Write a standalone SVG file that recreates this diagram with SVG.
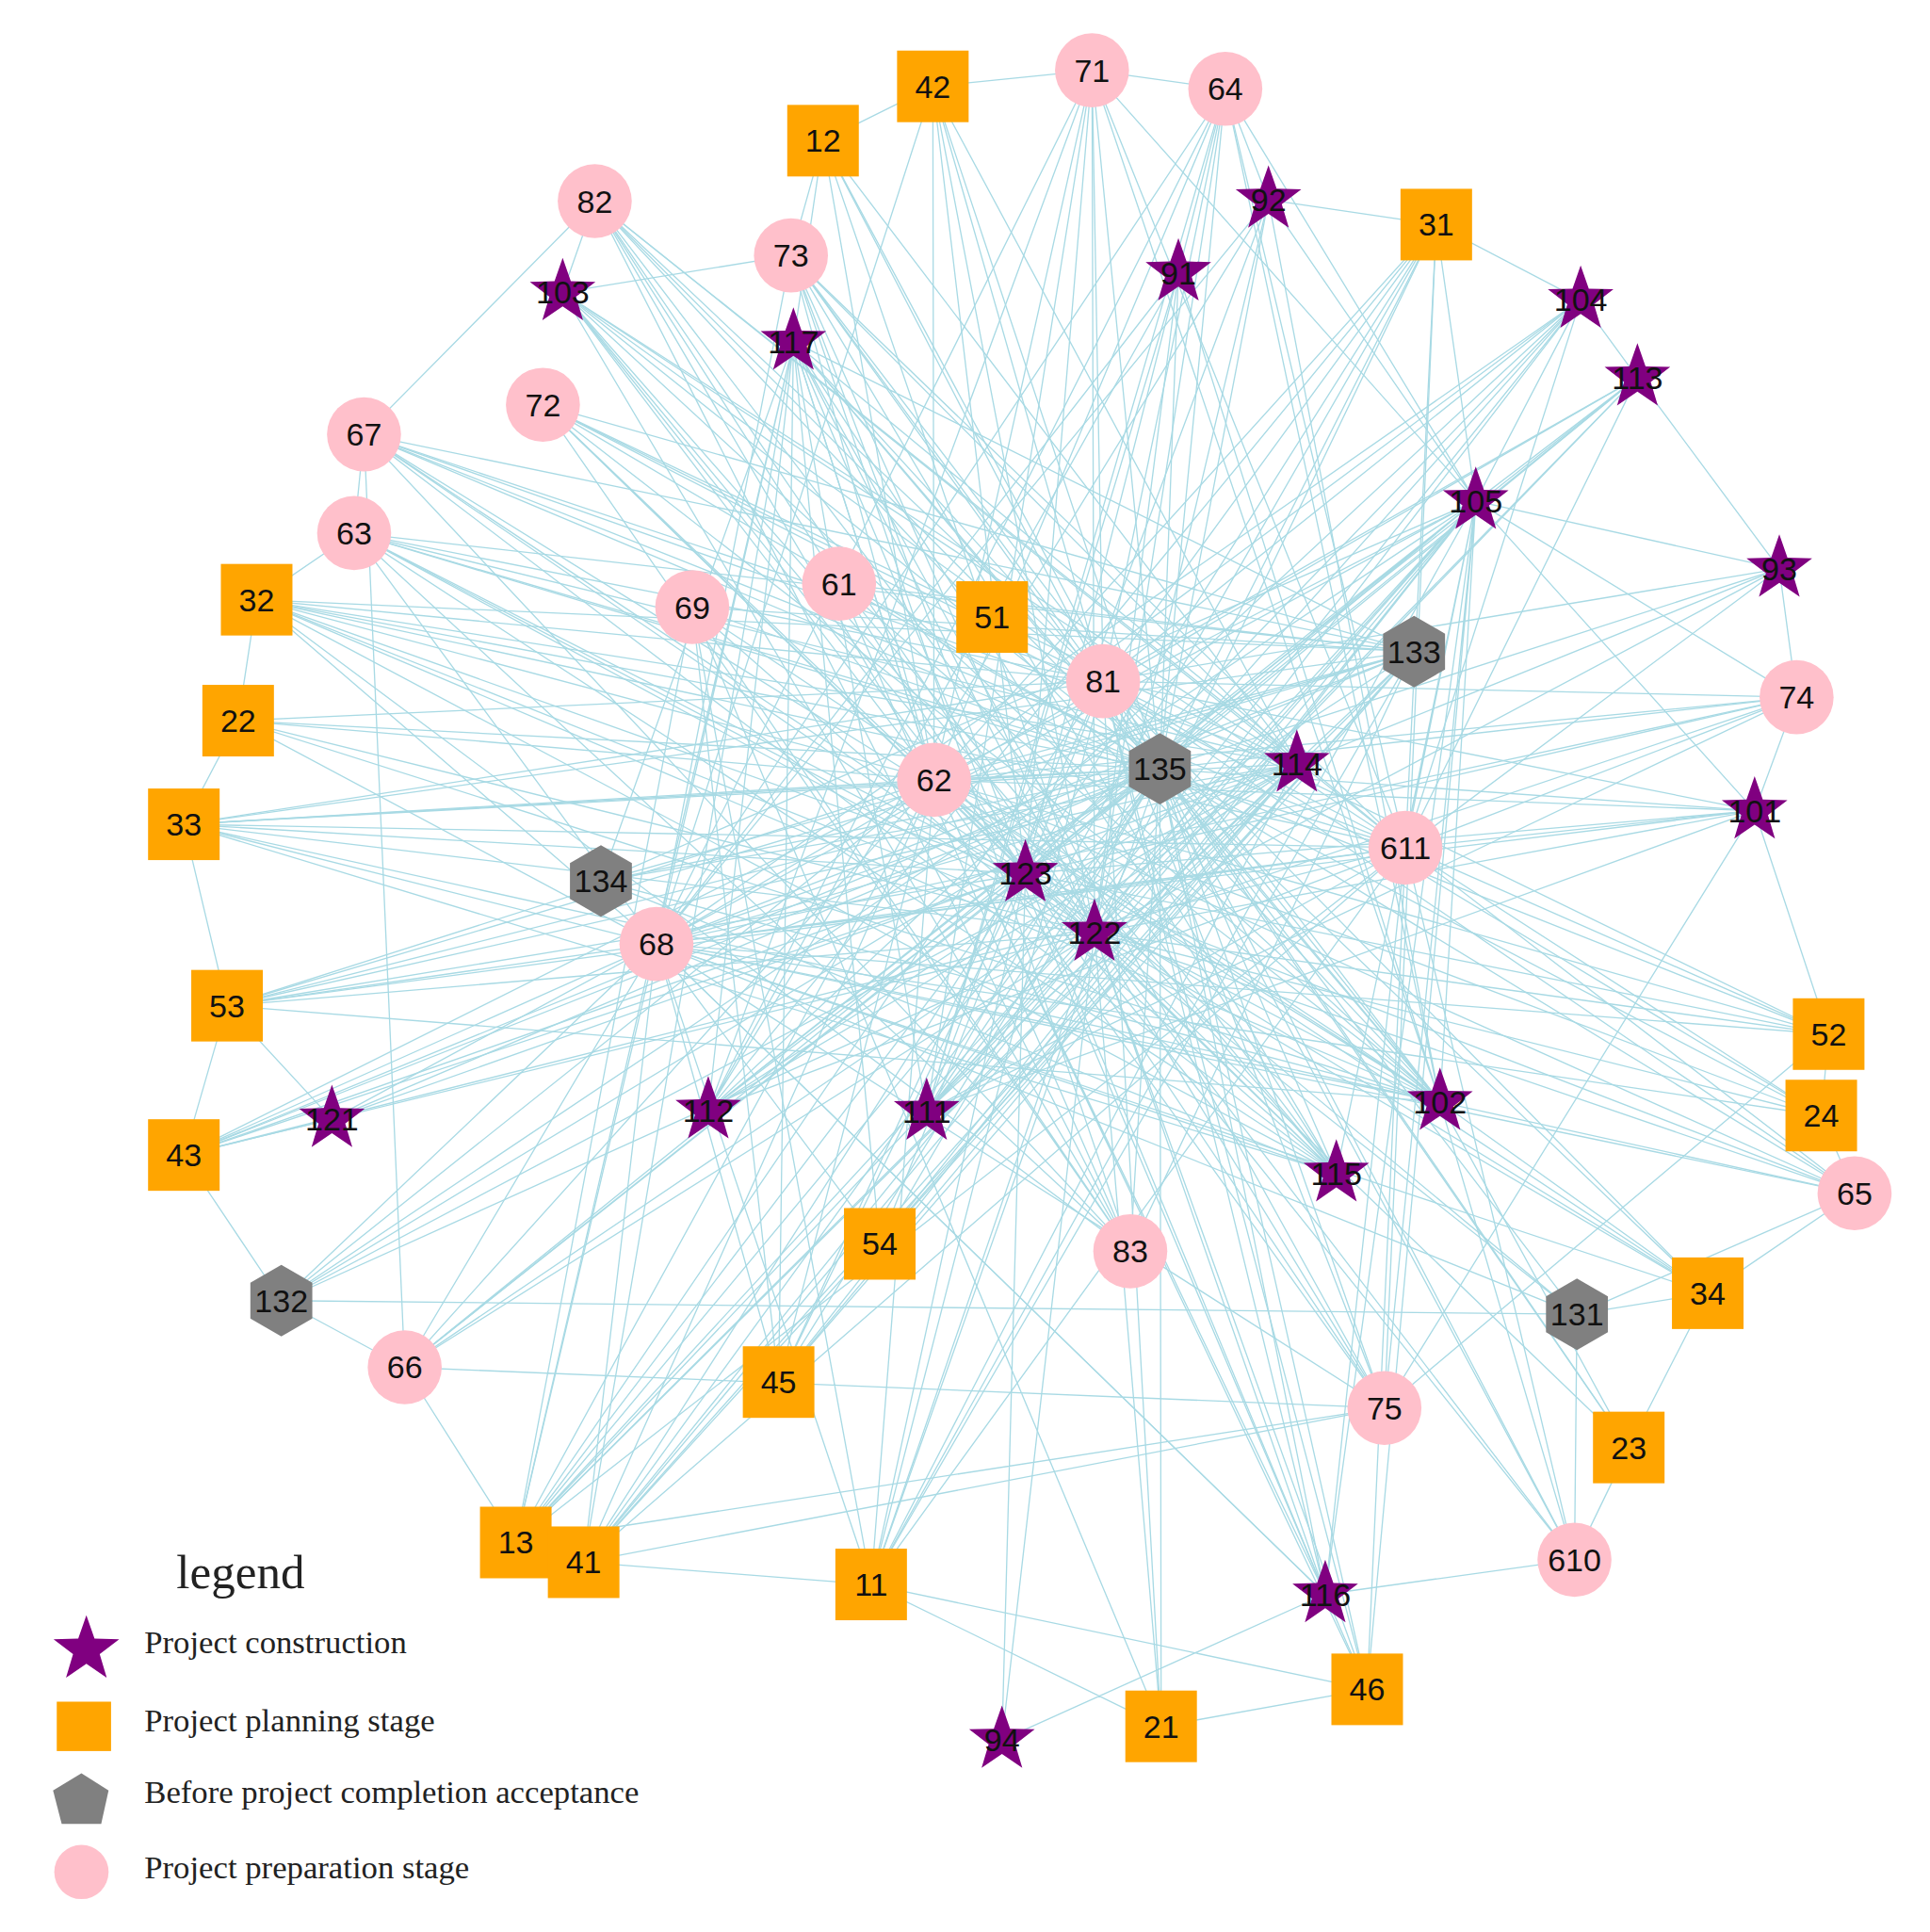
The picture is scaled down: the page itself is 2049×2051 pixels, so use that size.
<svg xmlns="http://www.w3.org/2000/svg" xmlns:xlink="http://www.w3.org/1999/xlink" width="2049" height="2051" viewBox="0 0 2049 2051">
<style>
.e{stroke:#9fd6e2;stroke-width:1;fill:none;opacity:0.9}
.c{fill:#ffc0cb}.s{fill:#ffa500}.st{fill:#800080}.h{fill:#808080}
.t{font-family:"Liberation Sans",Arial,sans-serif;font-size:26px;fill:#111;text-anchor:middle;dominant-baseline:central}
.lg{font-family:"Liberation Serif","Times New Roman",serif;font-size:26.5px;fill:#222}
</style>
<defs>
<polygon id="star" points="0,-28 6.6,-9.1 26.6,-8.6 10.8,3.5 16.5,22.6 0,11.3 -16.5,22.6 -10.8,3.5 -26.6,-8.6 -6.6,-9.1"/>
<polygon id="hex" points="0,-29 25.1,-14.5 25.1,14.5 0,29 -25.1,14.5 -25.1,-14.5"/>
</defs>
<rect width="2049" height="2051" fill="#fff"/>
<g transform="scale(1.31)">
<g id="connectors" class="e">
<path d="M756 70L667 114M756 70L885 57M885 57L993 72M993 72L1028 162M1028 162L1164 182M1164 182L1281 243M1281 243L1327 306M1327 306L1442 461M1442 461L1456 565M1456 565L1422 657M1422 657L1482 838M1482 838L1476 904M1476 904L1503 967M1503 967L1384 1048M1384 1048L1320 1173M1320 1173L1276 1264M1276 1264L1074 1292M1074 1292L1108 1369M1108 1369L941 1399M706 1284L1108 1369M706 1284L941 1399M418 1250L473 1266M473 1266L706 1284M418 1250L328 1108M328 1108L228 1054M228 1054L149 936M149 936L184 815M184 815L149 668M149 668L193 584M193 584L208 486M208 486L287 432M287 432L295 352M295 352L482 163M482 163L456 237M456 237L641 207M641 207L667 114M667 114L643 277M1074 1292L812 1410M1074 1292L1276 1264M1384 1048L1278 1065M1278 1065L1503 967"/>
<path d="M940 623L885 57M940 623L993 72M940 623L482 163M940 623L641 207M940 623L440 328M940 623L295 352M940 623L287 432M940 623L208 486M940 623L193 584M940 623L149 668M940 623L184 815M940 623L149 936M940 623L269 907M940 623L228 1054M940 623L328 1108M940 623L418 1250M940 623L473 1266M940 623L706 1284M940 623L631 1120M940 623L713 1008M940 623L916 1014M940 623L1122 1141M940 623L1074 1292M940 623L1108 1369M940 623L941 1399M940 623L1276 1264M940 623L1320 1173M940 623L1384 1048M940 623L1278 1065M940 623L1503 967M940 623L1476 904M940 623L1482 838M940 623L1422 657M940 623L1456 565M940 623L1442 461M940 623L1327 306M940 623L1281 243M940 623L1164 182M940 623L955 221M940 623L1028 162M940 623L756 70M940 623L667 114M940 623L456 237M940 623L643 277M940 623L561 492M940 623L680 473M940 623L757 632M940 623L532 765M940 623L487 714M940 623L574 900M940 623L751 901M940 623L1167 893M940 623L1083 951"/>
<path d="M887 756L885 57M887 756L993 72M887 756L756 70M887 756L667 114M887 756L641 207M887 756L482 163M887 756L456 237M887 756L643 277M887 756L440 328M887 756L295 352M887 756L287 432M887 756L208 486M887 756L193 584M887 756L149 668M887 756L184 815M887 756L149 936M887 756L228 1054M887 756L328 1108M887 756L418 1250M887 756L473 1266M887 756L706 1284M887 756L941 1399M887 756L812 1410M887 756L1108 1369M887 756L1074 1292M887 756L1276 1264M887 756L1122 1141M887 756L1320 1173M887 756L1278 1065M887 756L1384 1048M887 756L1503 967M887 756L1476 904M887 756L1482 838M887 756L1422 657M887 756L1456 565M887 756L1442 461M887 756L1327 306M887 756L1281 243M887 756L1196 406M887 756L1164 182M887 756L1028 162M887 756L955 221"/>
<path d="M831 708L885 57M831 708L993 72M831 708L482 163M831 708L456 237M831 708L440 328M831 708L295 352M831 708L287 432M831 708L208 486M831 708L149 668M831 708L184 815M831 708L149 936M831 708L269 907M831 708L328 1108M831 708L418 1250M831 708L473 1266M831 708L631 1120M831 708L706 1284M831 708L1074 1292M831 708L1122 1141M831 708L1276 1264M831 708L1384 1048M831 708L1503 967M831 708L1482 838M831 708L1422 657M831 708L1456 565M831 708L1442 461M831 708L1281 243M831 708L1327 306M831 708L1164 182M831 708L756 70"/>
<path d="M532 765L885 57M532 765L993 72M532 765L756 70M532 765L641 207M532 765L955 221M532 765L1028 162M532 765L1196 406M532 765L1281 243M532 765L1327 306M532 765L1146 528M532 765L1139 687M532 765L1456 565M532 765L1422 657M532 765L1482 838M532 765L1476 904M532 765L1503 967M532 765L1384 1048M532 765L1278 1065M532 765L1122 1141M532 765L1074 1292M532 765L418 1250M532 765L473 1266M532 765L706 1284M532 765L631 1120M532 765L713 1008M532 765L328 1108M532 765L228 1054M532 765L269 907M532 765L149 936M532 765L184 815M532 765L149 668M532 765L193 584M532 765L208 486M532 765L287 432"/>
<path d="M1196 406L418 1250M1196 406L473 1266M1196 406L706 1284M1196 406L631 1120M1196 406L713 1008M1196 406L574 900M1196 406L751 901M1196 406L487 714M1196 406L757 632M1196 406L831 708M1196 406L228 1054M1196 406L328 1108M1196 406L1122 1141M1196 406L1074 1292M1196 406L1108 1369M1196 406L1167 893M1196 406L1083 951M1196 406L1139 687M1196 406L1422 657M1196 406L1456 565M1196 406L1442 461M1196 406L1281 243M1196 406L1327 306M1196 406L1164 182M1196 406L1028 162M1196 406L993 72M1196 406L885 57"/>
<path d="M1139 687L295 352M1139 687L287 432M1139 687L440 328M1139 687L482 163M1139 687L456 237M1139 687L208 486M1139 687L149 668M1139 687L184 815M1139 687L149 936M1139 687L418 1250M1139 687L473 1266M1139 687L706 1284M1139 687L1074 1292M1139 687L1108 1369M1139 687L1276 1264M1139 687L1503 967M1139 687L1476 904M1139 687L1482 838M1139 687L1422 657M1139 687L1456 565M1139 687L1442 461M1139 687L1327 306M1139 687L1281 243M1139 687L1164 182M1139 687L885 57M1139 687L993 72"/>
<path d="M894 552L295 352M894 552L287 432M894 552L208 486M894 552L149 668M894 552L193 584M894 552L482 163M894 552L456 237M894 552L440 328M894 552L667 114M894 552L756 70M894 552L885 57M894 552L993 72M894 552L1164 182M894 552L1281 243M894 552L1327 306M894 552L1442 461M894 552L1456 565M894 552L1422 657M894 552L1482 838M894 552L1476 904M894 552L1503 967M894 552L1384 1048M894 552L1320 1173M894 552L1276 1264M894 552L1122 1141M894 552L1108 1369M894 552L1074 1292M894 552L941 1399M894 552L706 1284M894 552L713 1008M894 552L631 1120M894 552L418 1250"/>
<path d="M757 632L885 57M757 632L993 72M757 632L482 163M757 632L456 237M757 632L643 277M757 632L667 114M757 632L756 70M757 632L1164 182M757 632L1281 243M757 632L1146 528M757 632L1456 565M757 632L1422 657M757 632L1503 967M757 632L1476 904M757 632L1482 838M757 632L1384 1048M757 632L1278 1065M757 632L1122 1141M757 632L1074 1292M757 632L1108 1369M757 632L418 1250M757 632L473 1266M757 632L706 1284M757 632L631 1120M757 632L328 1108M757 632L228 1054M757 632L149 936M757 632L184 815M757 632L149 668M757 632L208 486M757 632L193 584"/>
<path d="M643 277L487 714M643 277L532 765M643 277L574 900M643 277L751 901M643 277L418 1250M643 277L473 1266M643 277L713 1008M643 277L631 1120M643 277L757 632M643 277L894 552M643 277L1146 528M643 277L1167 893M643 277L1083 951M643 277L1139 687M643 277L1122 1141M641 207L894 552M641 207L1139 687M641 207L1167 893M641 207L1083 951M641 207L757 632M641 207L831 708"/>
<path d="M1051 619L295 352M1051 619L287 432M1051 619L208 486M1051 619L149 668M1051 619L184 815M1051 619L149 936M1051 619L228 1054M1051 619L418 1250M1051 619L473 1266M1051 619L706 1284M1051 619L631 1120M1051 619L713 1008M1051 619L328 1108M1051 619L532 765M1051 619L487 714M1051 619L667 114M1051 619L756 70M1051 619L482 163M1051 619L456 237M1051 619L641 207M1051 619L440 328"/>
<path d="M1146 528L208 486M1146 528L149 668M1146 528L287 432M1146 528L295 352M1146 528L440 328M1146 528L561 492M1146 528L680 473M1146 528L487 714M1146 528L184 815M1146 528L149 936M1146 528L418 1250M1146 528L473 1266M1146 528L706 1284M1146 528L631 1120M1146 528L713 1008M1146 528L916 1014"/>
<path d="M1167 893L295 352M1167 893L287 432M1167 893L440 328M1167 893L561 492M1167 893L680 473M1167 893L482 163M1167 893L456 237M1167 893L208 486M1167 893L193 584M1167 893L149 668M1167 893L184 815M1167 893L487 714M1167 893L532 765M1167 893L757 632M1167 893L894 552M1167 893L993 72M1167 893L885 57M1167 893L955 221M1167 893L1028 162"/>
<path d="M751 901L885 57M751 901L993 72M751 901L955 221M751 901L1028 162M751 901L1281 243M751 901L1327 306M751 901L1164 182M751 901L1146 528M751 901L1456 565M751 901L1422 657M751 901L1139 687M751 901L1051 619M574 900L885 57M574 900L993 72M574 900L955 221M574 900L1028 162M574 900L1164 182M574 900L1281 243M574 900L1327 306M574 900L1146 528M574 900L1139 687M574 900L1051 619"/>
<path d="M916 1014L295 352M916 1014L440 328M916 1014L482 163M916 1014L456 237M916 1014L641 207M916 1014L680 473M916 1014L561 492M916 1014L287 432M916 1014L208 486M1083 951L295 352M1083 951L287 432M1083 951L440 328M1083 951L482 163M1083 951L456 237M1083 951L561 492M1083 951L680 473M1083 951L208 486M1083 951L149 668M1083 951L757 632M1083 951L532 765M1083 951L487 714"/>
<path d="M1122 1141L418 1250M1122 1141L473 1266M1122 1141L1422 657M1122 1141L1482 838M1122 1141L1164 182M1276 1264L1278 1065M1276 1264L1167 893M1074 1292L532 765M1074 1292L643 277M812 1410L831 708M941 1399L561 492M706 1284L561 492M631 1120L561 492M418 1250L561 492M269 907L149 936M269 907L184 815M328 1108L295 352M228 1054L1278 1065M328 1108L1122 1141M1320 1173L1167 893M1384 1048L1167 893M1503 967L1167 893"/>
</g>
<g id="n71"><circle class="c" cx="885" cy="57" r="30"/><text class="t" x="885" y="57">71</text></g>
<g id="n64"><circle class="c" cx="993" cy="72" r="30"/><text class="t" x="993" y="72">64</text></g>
<g id="n82"><circle class="c" cx="482" cy="163" r="30"/><text class="t" x="482" y="163">82</text></g>
<g id="n73"><circle class="c" cx="641" cy="207" r="30"/><text class="t" x="641" y="207">73</text></g>
<g id="n72"><circle class="c" cx="440" cy="328" r="30"/><text class="t" x="440" y="328">72</text></g>
<g id="n67"><circle class="c" cx="295" cy="352" r="30"/><text class="t" x="295" y="352">67</text></g>
<g id="n63"><circle class="c" cx="287" cy="432" r="30"/><text class="t" x="287" y="432">63</text></g>
<g id="n69"><circle class="c" cx="561" cy="492" r="30"/><text class="t" x="561" y="492">69</text></g>
<g id="n61"><circle class="c" cx="680" cy="473" r="30"/><text class="t" x="680" y="473">61</text></g>
<g id="n81"><circle class="c" cx="894" cy="552" r="30"/><text class="t" x="894" y="552">81</text></g>
<g id="n62"><circle class="c" cx="757" cy="632" r="30"/><text class="t" x="757" y="632">62</text></g>
<g id="n74"><circle class="c" cx="1456" cy="565" r="30"/><text class="t" x="1456" y="565">74</text></g>
<g id="n611"><circle class="c" cx="1139" cy="687" r="30"/><text class="t" x="1139" y="687">611</text></g>
<g id="n68"><circle class="c" cx="532" cy="765" r="30"/><text class="t" x="532" y="765">68</text></g>
<g id="n83"><circle class="c" cx="916" cy="1014" r="30"/><text class="t" x="916" y="1014">83</text></g>
<g id="n65"><circle class="c" cx="1503" cy="967" r="30"/><text class="t" x="1503" y="967">65</text></g>
<g id="n66"><circle class="c" cx="328" cy="1108" r="30"/><text class="t" x="328" y="1108">66</text></g>
<g id="n75"><circle class="c" cx="1122" cy="1141" r="30"/><text class="t" x="1122" y="1141">75</text></g>
<g id="n610"><circle class="c" cx="1276" cy="1264" r="30"/><text class="t" x="1276" y="1264">610</text></g>
<g id="n42"><rect class="s" x="727" y="41" width="58" height="58"/><text class="t" x="756" y="70">42</text></g>
<g id="n12"><rect class="s" x="638" y="85" width="58" height="58"/><text class="t" x="667" y="114">12</text></g>
<g id="n31"><rect class="s" x="1135" y="153" width="58" height="58"/><text class="t" x="1164" y="182">31</text></g>
<g id="n32"><rect class="s" x="179" y="457" width="58" height="58"/><text class="t" x="208" y="486">32</text></g>
<g id="n22"><rect class="s" x="164" y="555" width="58" height="58"/><text class="t" x="193" y="584">22</text></g>
<g id="n33"><rect class="s" x="120" y="639" width="58" height="58"/><text class="t" x="149" y="668">33</text></g>
<g id="n51"><rect class="s" x="775" y="471" width="58" height="58"/><text class="t" x="804" y="500">51</text></g>
<g id="n53"><rect class="s" x="155" y="786" width="58" height="58"/><text class="t" x="184" y="815">53</text></g>
<g id="n43"><rect class="s" x="120" y="907" width="58" height="58"/><text class="t" x="149" y="936">43</text></g>
<g id="n52"><rect class="s" x="1453" y="809" width="58" height="58"/><text class="t" x="1482" y="838">52</text></g>
<g id="n24"><rect class="s" x="1447" y="875" width="58" height="58"/><text class="t" x="1476" y="904">24</text></g>
<g id="n34"><rect class="s" x="1355" y="1019" width="58" height="58"/><text class="t" x="1384" y="1048">34</text></g>
<g id="n54"><rect class="s" x="684" y="979" width="58" height="58"/><text class="t" x="713" y="1008">54</text></g>
<g id="n45"><rect class="s" x="602" y="1091" width="58" height="58"/><text class="t" x="631" y="1120">45</text></g>
<g id="n23"><rect class="s" x="1291" y="1144" width="58" height="58"/><text class="t" x="1320" y="1173">23</text></g>
<g id="n13"><rect class="s" x="389" y="1221" width="58" height="58"/><text class="t" x="418" y="1250">13</text></g>
<g id="n41"><rect class="s" x="444" y="1237" width="58" height="58"/><text class="t" x="473" y="1266">41</text></g>
<g id="n11"><rect class="s" x="677" y="1255" width="58" height="58"/><text class="t" x="706" y="1284">11</text></g>
<g id="n46"><rect class="s" x="1079" y="1340" width="58" height="58"/><text class="t" x="1108" y="1369">46</text></g>
<g id="n21"><rect class="s" x="912" y="1370" width="58" height="58"/><text class="t" x="941" y="1399">21</text></g>
<g id="n92"><use href="#star" class="st" x="1028" y="162"/><text class="t" x="1028" y="162">92</text></g>
<g id="n91"><use href="#star" class="st" x="955" y="221"/><text class="t" x="955" y="221">91</text></g>
<g id="n103"><use href="#star" class="st" x="456" y="237"/><text class="t" x="456" y="237">103</text></g>
<g id="n117"><use href="#star" class="st" x="643" y="277"/><text class="t" x="643" y="277">117</text></g>
<g id="n104"><use href="#star" class="st" x="1281" y="243"/><text class="t" x="1281" y="243">104</text></g>
<g id="n113"><use href="#star" class="st" x="1327" y="306"/><text class="t" x="1327" y="306">113</text></g>
<g id="n105"><use href="#star" class="st" x="1196" y="406"/><text class="t" x="1196" y="406">105</text></g>
<g id="n93"><use href="#star" class="st" x="1442" y="461"/><text class="t" x="1442" y="461">93</text></g>
<g id="n114"><use href="#star" class="st" x="1051" y="619"/><text class="t" x="1051" y="619">114</text></g>
<g id="n101"><use href="#star" class="st" x="1422" y="657"/><text class="t" x="1422" y="657">101</text></g>
<g id="n123"><use href="#star" class="st" x="831" y="708"/><text class="t" x="831" y="708">123</text></g>
<g id="n122"><use href="#star" class="st" x="887" y="756"/><text class="t" x="887" y="756">122</text></g>
<g id="n102"><use href="#star" class="st" x="1167" y="893"/><text class="t" x="1167" y="893">102</text></g>
<g id="n121"><use href="#star" class="st" x="269" y="907"/><text class="t" x="269" y="907">121</text></g>
<g id="n112"><use href="#star" class="st" x="574" y="900"/><text class="t" x="574" y="900">112</text></g>
<g id="n111"><use href="#star" class="st" x="751" y="901"/><text class="t" x="751" y="901">111</text></g>
<g id="n115"><use href="#star" class="st" x="1083" y="951"/><text class="t" x="1083" y="951">115</text></g>
<g id="n116"><use href="#star" class="st" x="1074" y="1292"/><text class="t" x="1074" y="1292">116</text></g>
<g id="n94"><use href="#star" class="st" x="812" y="1410"/><text class="t" x="812" y="1410">94</text></g>
<g id="n133"><use href="#hex" class="h" x="1146" y="528"/><text class="t" x="1146" y="528">133</text></g>
<g id="n135"><use href="#hex" class="h" x="940" y="623"/><text class="t" x="940" y="623">135</text></g>
<g id="n134"><use href="#hex" class="h" x="487" y="714"/><text class="t" x="487" y="714">134</text></g>
<g id="n132"><use href="#hex" class="h" x="228" y="1054"/><text class="t" x="228" y="1054">132</text></g>
<g id="n131"><use href="#hex" class="h" x="1278" y="1065"/><text class="t" x="1278" y="1065">131</text></g>
<g id="legend">
<text x="143" y="1287" style="font-family:'Liberation Serif',serif;font-size:39px;fill:#222">legend</text>
<use href="#star" class="st" x="70" y="1337"/>
<rect class="s" x="46" y="1379" width="44" height="40"/>
<polygon class="h" points="66,1437 88,1451 82,1478 50,1478 43,1451"/>
<circle class="c" cx="66" cy="1517" r="22"/>
<text class="lg" x="117" y="1340">Project construction</text>
<text class="lg" x="117" y="1403">Project planning stage</text>
<text class="lg" x="117" y="1461">Before project completion acceptance</text>
<text class="lg" x="117" y="1522">Project preparation stage</text>
</g>
</g>
</svg>
